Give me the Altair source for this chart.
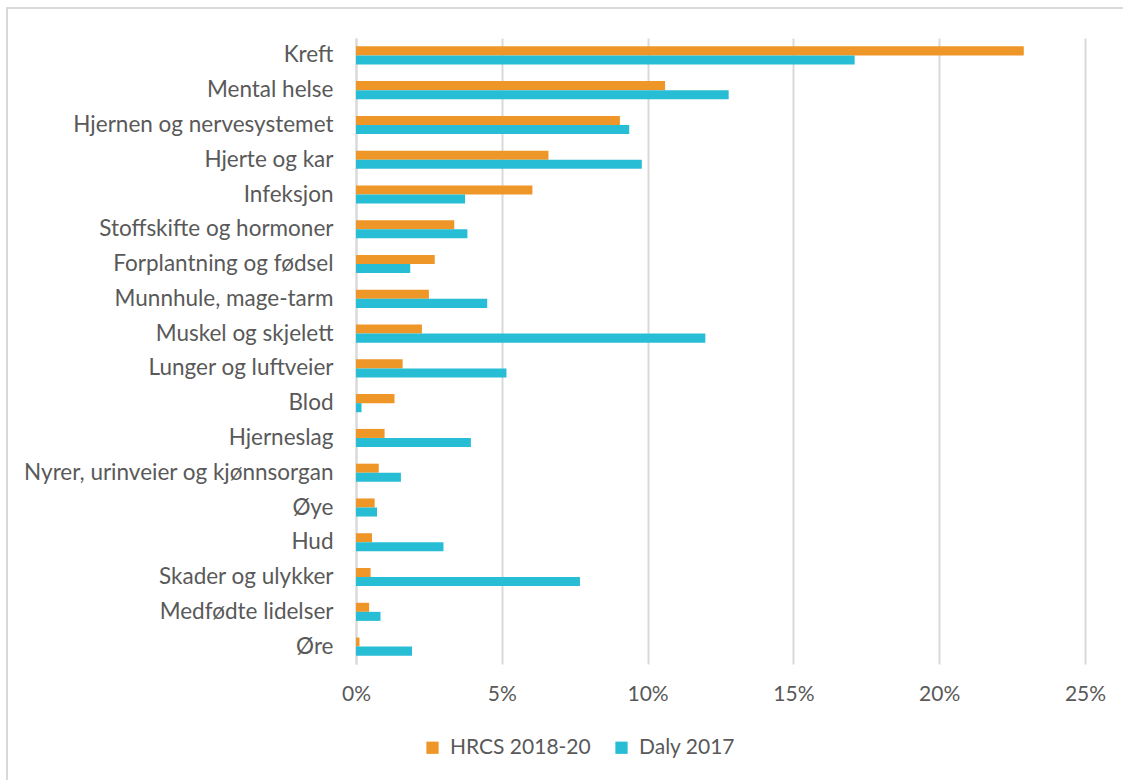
import altair as alt
import pandas as pd

categories = [
    "Kreft", "Mental helse", "Hjernen og nervesystemet", "Hjerte og kar",
    "Infeksjon", "Stoffskifte og hormoner", "Forplantning og fødsel",
    "Munnhule, mage-tarm", "Muskel og skjelett", "Lunger og luftveier",
    "Blod", "Hjerneslag", "Nyrer, urinveier og kjønnsorgan", "Øye", "Hud",
    "Skader og ulykker", "Medfødte lidelser", "Øre",
]
hrcs = [22.9, 10.6, 9.05, 6.6, 6.05, 3.37, 2.7, 2.5, 2.26, 1.6, 1.32, 0.98,
        0.78, 0.64, 0.55, 0.5, 0.45, 0.12]
daly = [17.1, 12.78, 9.37, 9.8, 3.74, 3.82, 1.86, 4.5, 11.98, 5.16, 0.19,
        3.94, 1.54, 0.72, 3.0, 7.68, 0.84, 1.92]
series = ["HRCS 2018-20", "Daly 2017"]
colors = ["#EE9627", "#27BDD4"]
x_ticks = [0, 5, 10, 15, 20, 25]

rows = []
for c, h, d in zip(categories, hrcs, daly):
    rows.append({"kategori": c, "serie": series[0], "verdi": h})
    rows.append({"kategori": c, "serie": series[1], "verdi": d})
df = pd.DataFrame(rows)

FONT = "Lato"
TXT = "#595959"
GRID = "#D9D9D9"

bars = alt.Chart(df).mark_bar().encode(
    y=alt.Y("kategori:N", sort=categories, title=None,
            scale=alt.Scale(paddingInner=0.48, paddingOuter=0.24),
            axis=alt.Axis(labelFont=FONT, labelFontSize=22.5, labelColor=TXT,
                          labelPadding=23, ticks=False, domain=True,
                          domainColor=GRID, domainWidth=2, grid=False,
                          labelLimit=400)),
    yOffset=alt.YOffset("serie:N", sort=series,
                        scale=alt.Scale(paddingInner=0, paddingOuter=0)),
    x=alt.X("verdi:Q", title=None,
            scale=alt.Scale(domain=[0, 25], nice=False),
            axis=alt.Axis(values=x_ticks, labelExpr="datum.value + '%'",
                          labelFont=FONT, labelFontSize=21, labelColor=TXT,
                          labelPadding=19, labelFlush=False, ticks=False,
                          domain=False, grid=True, gridColor=GRID,
                          gridWidth=2)),
    color=alt.Color("serie:N", sort=series,
                    scale=alt.Scale(domain=series, range=colors),
                    legend=alt.Legend(title=None, orient="none",
                                      direction="horizontal",
                                      legendX=66, legendY=699,
                                      symbolType="square", symbolSize=150,
                                      symbolStrokeWidth=0, labelOffset=7,
                                      columnPadding=20,
                                      labelFont=FONT, labelFontSize=21,
                                      labelColor=TXT)),
)

frame = alt.Chart(alt.Data(values=[{"a": 1}])).mark_rect(
    filled=False, stroke=GRID, strokeWidth=2
).encode(
    x=alt.value(-349), x2=alt.value(800),
    y=alt.value(-30), y2=alt.value(800),
)

chart = alt.layer(frame, bars).properties(
    width=729, height=626,
    autosize=alt.AutoSizeParams(type="none"),
    padding={"left": 356, "top": 38, "right": 38, "bottom": 116},
    background="white",
).configure_view(stroke=None)

chart.save("out.html", embed_options={"renderer": "svg", "actions": False})
